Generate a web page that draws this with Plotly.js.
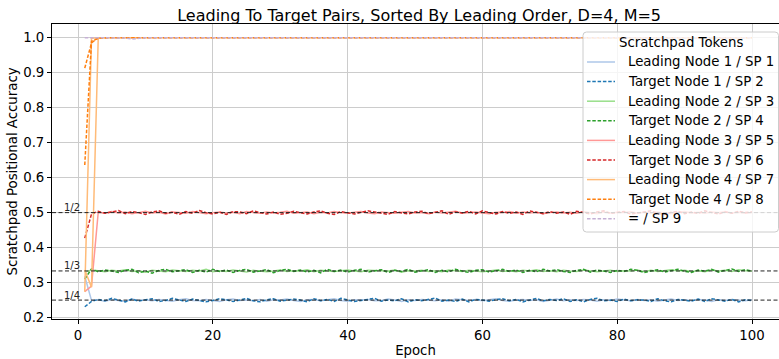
<!DOCTYPE html>
<html><head><meta charset="utf-8">
<script src="https://cdn.plot.ly/plotly-3.0.1.min.js"></script>
<style>html,body{margin:0;padding:0;background:#fff;overflow:hidden}#chart{width:779px;height:359px}</style>
</head><body><div id="chart"></div>
<script>
// ---- data ----
const epochs = Array.from({length: 100}, (_, i) => i + 1);

const leading1 = [
0.318,0.249,0.251,0.247,0.252,0.250,0.246,0.253,0.249,0.251,
0.248,0.252,0.250,0.247,0.251,0.254,0.249,0.248,0.252,0.250,
0.246,0.251,0.253,0.249,0.250,0.248,0.252,0.247,0.251,0.250,
0.253,0.249,0.246,0.251,0.252,0.248,0.250,0.254,0.249,0.247,
0.251,0.250,0.252,0.248,0.249,0.253,0.250,0.246,0.251,0.249,
0.252,0.250,0.248,0.251,0.247,0.253,0.250,0.249,0.252,0.248,
0.251,0.254,0.249,0.247,0.250,0.252,0.249,0.251,0.246,0.250,
0.253,0.248,0.251,0.249,0.252,0.250,0.247,0.251,0.249,0.253,
0.250,0.248,0.252,0.249,0.251,0.247,0.250,0.253,0.249,0.251,
0.248,0.252,0.250,0.246,0.251,0.249,0.252,0.250,0.248,0.251];

const target1 = [
0.231,0.246,0.252,0.248,0.255,0.250,0.245,0.253,0.247,0.251,
0.254,0.246,0.249,0.255,0.251,0.246,0.253,0.250,0.245,0.249,
0.254,0.251,0.246,0.250,0.255,0.248,0.245,0.251,0.254,0.247,
0.249,0.253,0.250,0.245,0.254,0.248,0.252,0.246,0.255,0.250,
0.246,0.249,0.253,0.255,0.247,0.250,0.248,0.254,0.245,0.251,
0.248,0.252,0.256,0.247,0.250,0.246,0.253,0.245,0.252,0.250,
0.247,0.251,0.254,0.248,0.252,0.245,0.250,0.255,0.248,0.252,
0.249,0.254,0.246,0.251,0.245,0.252,0.255,0.248,0.250,0.246,
0.253,0.248,0.251,0.250,0.246,0.254,0.248,0.245,0.252,0.250,
0.247,0.253,0.246,0.254,0.250,0.247,0.252,0.245,0.251,0.248];

const leading2 = [
0.330,0.336,0.334,0.331,0.335,0.333,0.337,0.332,0.334,0.330,
0.335,0.333,0.331,0.336,0.334,0.332,0.335,0.333,0.338,0.331,
0.334,0.332,0.336,0.333,0.330,0.335,0.334,0.331,0.333,0.336,
0.332,0.334,0.333,0.337,0.331,0.335,0.333,0.332,0.334,0.336,
0.333,0.331,0.335,0.334,0.332,0.333,0.336,0.330,0.334,0.333,
0.335,0.332,0.334,0.331,0.336,0.333,0.332,0.335,0.334,0.331,
0.333,0.336,0.332,0.334,0.331,0.335,0.333,0.337,0.332,0.334,
0.331,0.335,0.333,0.332,0.336,0.334,0.331,0.333,0.335,0.332,
0.334,0.333,0.336,0.331,0.335,0.332,0.334,0.337,0.333,0.335,
0.332,0.334,0.331,0.336,0.333,0.335,0.332,0.337,0.334,0.333];

const target2 = [
0.310,0.339,0.331,0.336,0.333,0.329,0.335,0.338,0.328,0.333,
0.327,0.335,0.338,0.331,0.334,0.337,0.329,0.335,0.330,0.338,
0.332,0.336,0.329,0.335,0.338,0.330,0.333,0.337,0.328,0.335,
0.338,0.332,0.336,0.330,0.335,0.328,0.338,0.332,0.336,0.330,
0.335,0.338,0.330,0.333,0.337,0.329,0.335,0.332,0.338,0.330,
0.333,0.337,0.329,0.335,0.331,0.338,0.333,0.329,0.335,0.337,
0.330,0.335,0.338,0.332,0.336,0.329,0.335,0.331,0.338,0.333,
0.337,0.332,0.329,0.335,0.338,0.330,0.336,0.333,0.329,0.335,
0.332,0.338,0.335,0.329,0.333,0.337,0.330,0.335,0.338,0.332,
0.329,0.336,0.333,0.338,0.330,0.335,0.339,0.332,0.337,0.333];

const leading3 = [
0.274,0.290,0.501,0.498,0.503,0.499,0.502,0.497,0.500,0.504,
0.499,0.501,0.496,0.502,0.500,0.498,0.503,0.501,0.497,0.500,
0.502,0.499,0.501,0.497,0.503,0.500,0.498,0.502,0.499,0.501,
0.504,0.498,0.500,0.502,0.497,0.501,0.499,0.503,0.500,0.498,
0.501,0.503,0.499,0.497,0.502,0.500,0.498,0.501,0.503,0.499,
0.500,0.497,0.502,0.499,0.501,0.504,0.498,0.500,0.502,0.499,
0.497,0.501,0.500,0.503,0.498,0.502,0.499,0.501,0.497,0.500,
0.502,0.499,0.501,0.498,0.503,0.500,0.497,0.502,0.499,0.501,
0.500,0.503,0.498,0.501,0.499,0.502,0.500,0.497,0.501,0.503,
0.499,0.501,0.498,0.502,0.500,0.503,0.499,0.501,0.498,0.500];

const target3 = [
0.427,0.496,0.504,0.498,0.502,0.506,0.497,0.503,0.500,0.495,
0.502,0.505,0.498,0.501,0.495,0.503,0.498,0.506,0.500,0.496,
0.501,0.495,0.503,0.502,0.497,0.505,0.500,0.496,0.502,0.495,
0.498,0.504,0.500,0.496,0.502,0.505,0.498,0.495,0.503,0.500,
0.496,0.501,0.505,0.502,0.498,0.495,0.503,0.500,0.496,0.502,
0.504,0.497,0.500,0.505,0.495,0.502,0.499,0.504,0.496,0.505,
0.500,0.496,0.503,0.498,0.502,0.495,0.505,0.500,0.497,0.503,
0.498,0.502,0.495,0.504,0.500,0.496,0.502,0.505,0.498,0.500,
0.503,0.496,0.500,0.502,0.505,0.498,0.495,0.501,0.504,0.497,
0.502,0.498,0.505,0.500,0.496,0.502,0.498,0.504,0.500,0.502];

const leading4 = [
0.336,0.287,0.999,1.000,1.000,1.000,1.000,1.000,1.000,1.000,
1.000,1.000,1.000,1.000,1.000,1.000,1.000,1.000,1.000,1.000,
1.000,1.000,1.000,1.000,1.000,1.000,1.000,1.000,1.000,1.000,
1.000,1.000,1.000,1.000,1.000,1.000,1.000,1.000,1.000,1.000,
1.000,1.000,1.000,1.000,1.000,1.000,1.000,1.000,1.000,1.000,
1.000,1.000,1.000,1.000,1.000,1.000,1.000,1.000,1.000,1.000,
1.000,1.000,1.000,1.000,1.000,1.000,1.000,1.000,1.000,1.000,
1.000,1.000,1.000,1.000,1.000,1.000,1.000,1.000,1.000,1.000,
1.000,1.000,1.000,1.000,1.000,1.000,1.000,1.000,1.000,1.000,
1.000,1.000,1.000,1.000,1.000,1.000,1.000,1.000,1.000,1.000];

const target4 = [
0.636,0.990,0.998,1.000,1.000,1.000,1.000,1.000,1.000,1.000,
1.000,1.000,1.000,1.000,1.000,1.000,1.000,1.000,1.000,1.000,
1.000,1.000,1.000,1.000,1.000,1.000,1.000,1.000,1.000,1.000,
1.000,1.000,1.000,1.000,1.000,1.000,1.000,1.000,1.000,1.000,
1.000,1.000,1.000,1.000,1.000,1.000,1.000,1.000,1.000,1.000,
1.000,1.000,1.000,1.000,1.000,1.000,1.000,1.000,1.000,1.000,
1.000,1.000,1.000,1.000,1.000,1.000,1.000,1.000,1.000,1.000,
1.000,1.000,1.000,1.000,1.000,1.000,1.000,1.000,1.000,1.000,
1.000,1.000,1.000,1.000,1.000,1.000,1.000,1.000,1.000,1.000,
1.000,1.000,1.000,1.000,1.000,1.000,1.000,1.000,1.000,1.000];

const equalsSP9 = [
1.000,1.000,1.000,1.000,1.000,1.000,0.999,0.996,0.999,1.000,
1.000,1.000,1.000,1.000,1.000,1.000,1.000,1.000,1.000,1.000,
1.000,1.000,1.000,1.000,1.000,1.000,1.000,1.000,1.000,1.000,
1.000,1.000,1.000,1.000,1.000,1.000,1.000,1.000,1.000,1.000,
1.000,1.000,1.000,1.000,1.000,1.000,1.000,1.000,1.000,1.000,
1.000,1.000,1.000,1.000,1.000,1.000,1.000,1.000,1.000,1.000,
1.000,1.000,1.000,1.000,1.000,1.000,1.000,1.000,1.000,1.000,
1.000,1.000,1.000,1.000,1.000,1.000,1.000,1.000,1.000,1.000,
1.000,1.000,1.000,1.000,1.000,1.000,1.000,1.000,1.000,1.000,
1.000,1.000,1.000,1.000,1.000,1.000,1.000,1.000,1.000,1.000];

// second run, early epochs only (visible where it differs)
const earlyEpochs = [1, 2, 3];
const leading4Run2 = [0.274, 0.998, 1.000];
const target4Run2 = [0.913, 0.985, 1.000];

const seriesNames = ['Leading Node 1 / SP 1','Target Node 1 / SP 2','Leading Node 2 / SP 3','Target Node 2 / SP 4',
  'Leading Node 3 / SP 5','Target Node 3 / SP 6','Leading Node 4 / SP 7','Target Node 4 / SP 8','= / SP 9'];
const seriesColors = ['#aec7e8','#1f77b4','#98df8a','#2ca02c','#ff9896','#d62728','#ffbb78','#ff7f0e','#c5b0d5'];
const seriesDashed = [false,true,false,true,false,true,false,true,true];
const seriesValues = [leading1,target1,leading2,target2,leading3,target3,leading4,target4,equalsSP9];

const refLevels = [1/2, 1/3, 1/4];
const refLabels = ['1/2', '1/3', '1/4'];

const chartTitle = 'Leading To Target Pairs, Sorted By Leading Order, D=4, M=5';
const xTitle = 'Epoch';
const yTitle = 'Scratchpad Positional Accuracy';
const legendTitle = 'Scratchpad Tokens';

// ---- build ----
const FONT = 'DejaVu Sans, Verdana, sans-serif';
const FS = 13.3;
const DASH = '3.5px,1.8px';
const traces = [];
seriesValues.forEach((vals, i) => {
  traces.push({
    x: epochs, y: vals, type: 'scatter', mode: 'lines', name: seriesNames[i], showlegend: false,
    line: {color: seriesColors[i], width: 1.5, dash: seriesDashed[i] ? DASH : 'solid'}
  });
  if (i === 6) traces.push({x: earlyEpochs, y: leading4Run2, type: 'scatter', mode: 'lines', showlegend: false,
    line: {color: seriesColors[6], width: 1.5}});
  if (i === 7) traces.push({x: earlyEpochs, y: target4Run2, type: 'scatter', mode: 'lines', showlegend: false,
    line: {color: seriesColors[7], width: 1.5, dash: DASH}});
});

// plot area in pixels
const PL = 52, PT = 24, PW = 727, PH = 295;
const fx = px => (px - PL) / PW;
const fy = py => 1 - (py - PT) / PH;

const shapes = refLevels.map(v => ({
  type: 'line', xref: 'paper', x0: 0, x1: 1, yref: 'y', y0: v, y1: v,
  line: {color: '#222', width: 1, dash: '4px,2.5px'}, layer: 'above'
}));
const annotations = refLevels.map((v, i) => ({
  x: -0.93, y: v, xref: 'x', yref: 'y', text: refLabels[i], showarrow: false,
  xanchor: 'center', yanchor: 'middle', yshift: 5, font: {family: FONT, size: 10, color: '#222'}
}));

// legend (matplotlib style box, drawn with shapes + text)
const LB = {x0: 583, x1: 778.5, y0: 32, y1: 232, r: 3.5};
const rx = LB.r / PW, ry = LB.r / PH;
const X0 = fx(LB.x0), X1 = fx(LB.x1), Y0 = fy(LB.y0), Y1 = fy(LB.y1);
const boxPath = `M ${X0+rx},${Y0} L ${X1-rx},${Y0} Q ${X1},${Y0} ${X1},${Y0-ry} L ${X1},${Y1+ry} Q ${X1},${Y1} ${X1-rx},${Y1} ` +
  `L ${X0+rx},${Y1} Q ${X0},${Y1} ${X0},${Y1+ry} L ${X0},${Y0-ry} Q ${X0},${Y0} ${X0+rx},${Y0} Z`;
shapes.push({type: 'path', xref: 'paper', yref: 'paper', path: boxPath, layer: 'above',
  fillcolor: 'rgba(255,255,255,0.8)', line: {color: 'rgba(204,204,204,1)', width: 1}});
annotations.push({x: fx((LB.x0 + LB.x1) / 2), y: fy(42), xref: 'paper', yref: 'paper', text: legendTitle,
  showarrow: false, xanchor: 'center', yanchor: 'middle', font: {family: FONT, size: FS, color: '#000'}});
seriesNames.forEach((nm, i) => {
  const rowY = 62 + 19.6 * i;
  shapes.push({type: 'line', xref: 'paper', yref: 'paper', x0: fx(587), x1: fx(615), y0: fy(rowY), y1: fy(rowY),
    layer: 'above', line: {color: seriesColors[i], width: 1.5, dash: seriesDashed[i] ? DASH : 'solid'}});
  annotations.push({x: fx(626), y: fy(rowY), xref: 'paper', yref: 'paper', text: nm, showarrow: false,
    xanchor: 'left', yanchor: 'middle', font: {family: FONT, size: FS, color: '#000'}});
});

const layout = {
  width: 779, height: 359,
  margin: {l: PL, r: 0, t: PT, b: 40},
  paper_bgcolor: '#fff', plot_bgcolor: '#fff',
  font: {family: FONT, size: FS, color: '#000'},
  title: {text: chartTitle, font: {family: FONT, size: 16, color: '#000'},
    xref: 'paper', x: 0.505, xanchor: 'center', yref: 'container', y: 0.958, yanchor: 'middle'},
  xaxis: {
    range: [-3.86, 104.0], tickmode: 'array', tickvals: [0,20,40,60,80,100],
    showgrid: true, gridcolor: '#cccccc', gridwidth: 1, zeroline: false,
    showline: true, linecolor: '#000', linewidth: 1, mirror: true,
    ticks: 'outside', ticklen: 4, tickcolor: '#000', tickfont: {size: FS},
    title: {text: xTitle, font: {size: FS}, standoff: 3}
  },
  yaxis: {
    range: [0.196, 1.039], tickmode: 'array', tickvals: [0.2,0.3,0.4,0.5,0.6,0.7,0.8,0.9,1.0],
    ticktext: ['0.2','0.3','0.4','0.5','0.6','0.7','0.8','0.9','1.0'],
    showgrid: true, gridcolor: '#cccccc', gridwidth: 1, zeroline: false,
    showline: true, linecolor: '#000', linewidth: 1, mirror: false,
    ticks: 'outside', ticklen: 4, tickcolor: '#000', tickfont: {size: FS},
    title: {text: yTitle, font: {size: FS}, standoff: 2}
  },
  shapes: shapes,
  annotations: annotations,
  showlegend: false
};

Plotly.newPlot('chart', traces, layout, {displayModeBar: false, staticPlot: true});
</script>
</body></html>
